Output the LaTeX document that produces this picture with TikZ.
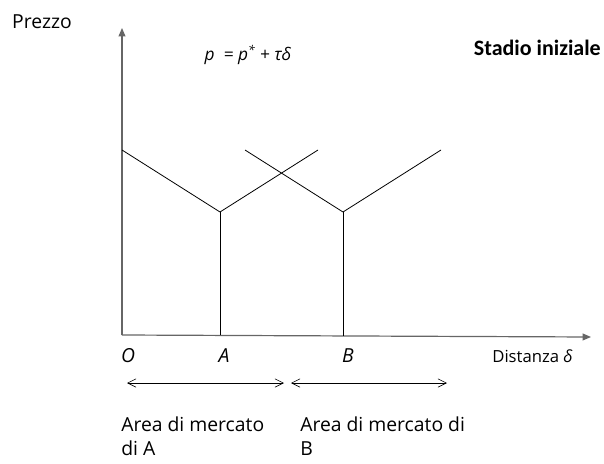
\documentclass[tikz,border=0pt]{standalone}
\usepackage{fontspec}
\setmainfont{Open Sans}
\newfontfamily\titlefont{Carlito}
\usetikzlibrary{positioning,arrows.meta}

\begin{document}
\begin{tikzpicture}[
  x=0.75pt, y=-0.75pt,
  font=\fontsize{14.5}{18}\selectfont,
  ax/.style    = {draw=black!60, line width=0.9pt, -{Triangle[length=2.2mm,width=1.8mm]}},
  ln/.style    = {draw=black, line width=0.6pt},
  area/.style  = {draw=black, line width=0.5pt,
                  {Straight Barb[length=2.2mm,width=2.2mm]}-{Straight Barb[length=2.2mm,width=2.2mm]}},
  pt/.style    = {font=\fontsize{14.5}{16}\selectfont\itshape, inner sep=1pt},
  txt/.style   = {align=left, anchor=base west, inner sep=0pt}
]
\useasboundingbox (0,0) rectangle (604,464);

% --- Assi ----------------------------------------------------------------------
\coordinate (O)    at (122,335);
\coordinate (ytop) at (122,28);
\coordinate (xend) at (591,337);
\draw[ax] (O) -- (ytop);
\draw[ax] (O) -- (xend);

% --- Prezzi pieni delle due imprese -------------------------------------------
\coordinate (A)   at (220,212);
\coordinate (lA)  at (122,150);
\coordinate (rA)  at (318,150);
\coordinate (Af)  at (220,335);
\coordinate (B)   at (343,212);
\coordinate (lB)  at (245,150);
\coordinate (rB)  at (441,150);
\coordinate (Bf)  at (343,336);
\draw[ln] (lA) -- (A) -- (rA);
\draw[ln] (lB) -- (B) -- (rB);
\draw[ln] (Af) -- (A);
\draw[ln] (Bf) -- (B);

% --- Etichette -----------------------------------------------------------------
\node (prezzo) at (42,22) {Prezzo};
\node[pt, font=\fontsize{13}{15}\selectfont\itshape] (formula) at (248,55)
     {p\ \ = p\textsuperscript{*} + τδ};
\node[anchor=east, inner sep=0pt, font=\titlefont\bfseries\fontsize{16.5}{18}\selectfont]
     (titolo) at (601,48) {Stadio iniziale};
\node[pt] (oLab) at (128,356) {O};
\node[pt] (aLab) at (224,356) {A};
\node[pt] (bLab) at (348,356) {B};
\node[anchor=east, inner sep=0pt, font=\fontsize{12.5}{14}\selectfont]
     (dist) at (573,356) {Distanza \textit{δ}};

% --- Aree di mercato -----------------------------------------------------------
\coordinate (a1) at (127,383);
\coordinate (a2) at (284,383);
\coordinate (b1) at (291,383);
\coordinate (b2) at (447,383);
\draw[area] (a1) -- (a2);
\draw[area] (b1) -- (b2);
\node[txt] (areaA) at (121,455) {Area di mercato\\di A};
\node[txt] (areaB) at (300,455) {Area di mercato di\\B};

\end{tikzpicture}
\end{document}
